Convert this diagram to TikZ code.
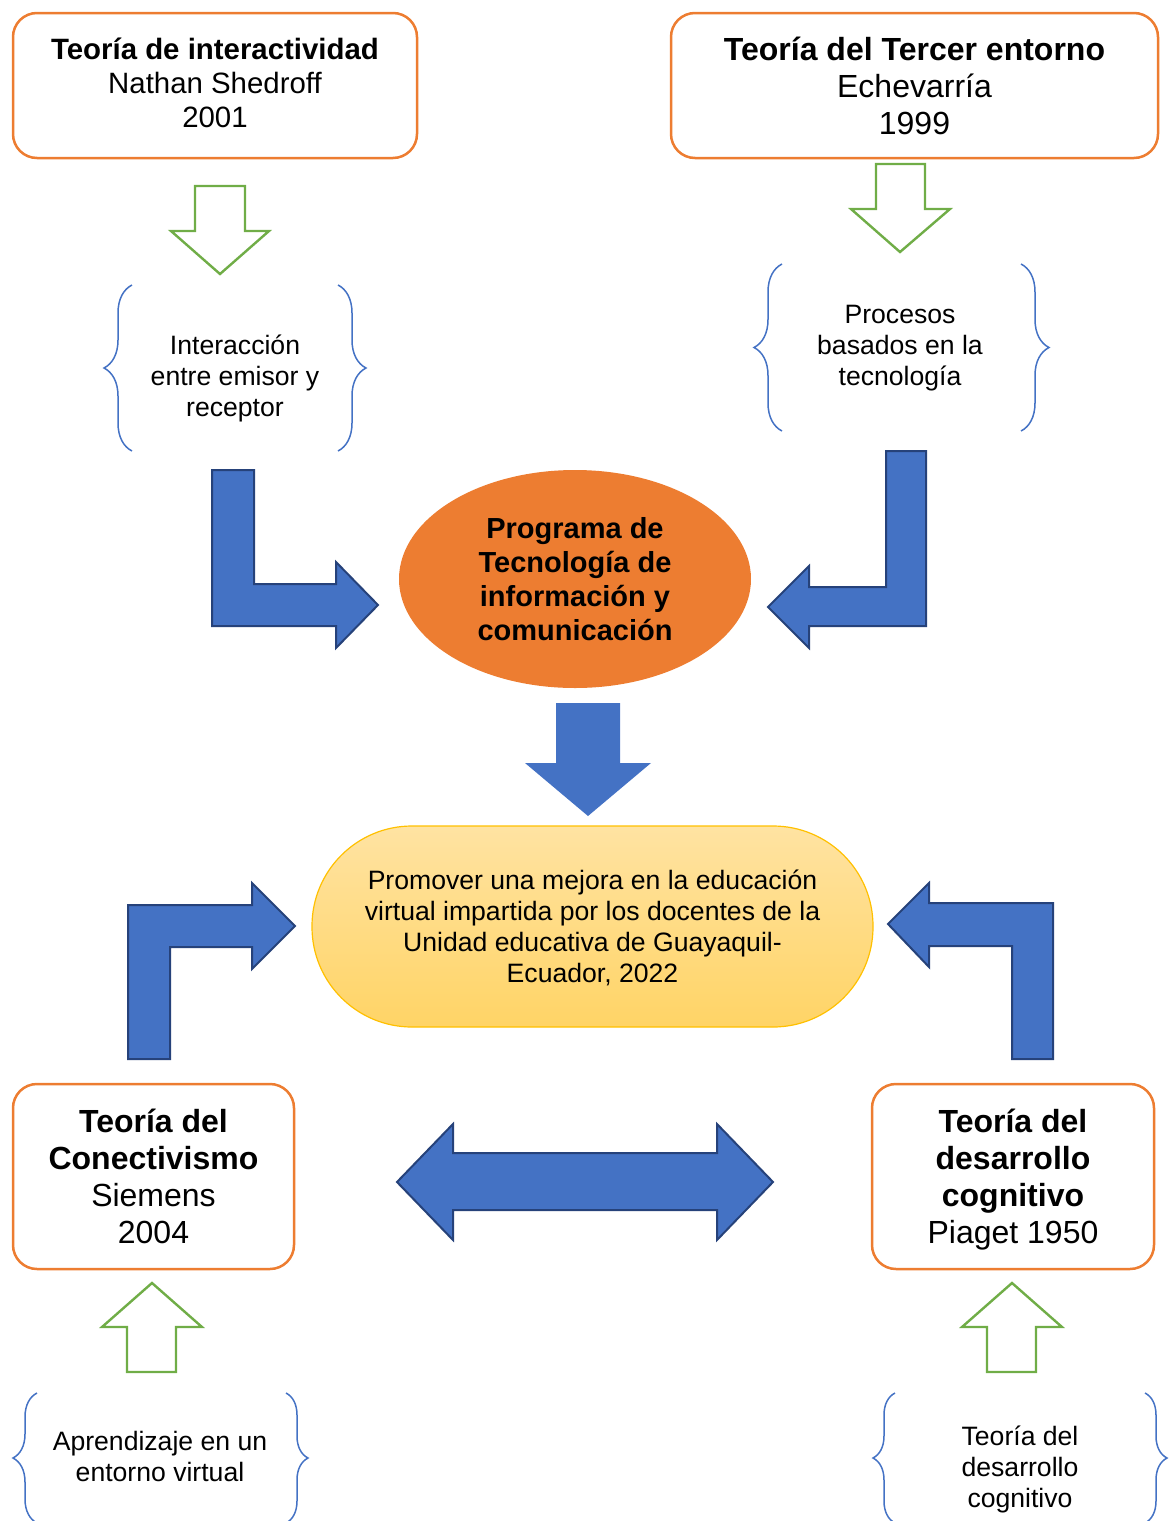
\documentclass[tikz,border=0pt]{standalone}
\usepackage{fontspec}
\setmainfont{Liberation Sans}
\usetikzlibrary{shapes.geometric}
\usetikzlibrary{decorations.pathreplacing}
\definecolor{naranja}{HTML}{ED7D31}
\definecolor{azul}{HTML}{4472C4}
\definecolor{azuloscuro}{HTML}{26427A}
\definecolor{verde}{HTML}{70AD47}
\definecolor{oro}{HTML}{FFC000}
\definecolor{oroclaro}{HTML}{FFE3A2}
\definecolor{oromedio}{HTML}{FFD466}

\begin{document}
\begin{tikzpicture}[x=0.5pt,y=-0.5pt,
	teoria/.style={draw=naranja, line width=1.25pt, rounded corners=12pt, fill=white, align=center, inner sep=0pt},
	llave/.style={draw=azul, line width=0.75pt, decorate, decoration={brace, amplitude=#1}},
	texto/.style={align=center, inner sep=0pt, font=\fontsize{13.3pt}{15.5pt}\selectfont},
	flechaverde/.style={draw=verde, line width=1.2pt, fill=white, line join=miter},
	flechaazul/.style={draw=azuloscuro, line width=1pt, fill=azul, line join=miter},
	]
	\useasboundingbox (0,0) rectangle (1169,1521);
	%Nodes
	\node[teoria, minimum width=202pt, minimum height=72.5pt, font=\fontsize{14.7pt}{17pt}\selectfont]
		(interact) at (215,85.5) {\textbf{Teoría de interactividad}\\Nathan Shedroff\\2001\vphantom{g}};
	\node[teoria, minimum width=243.5pt, minimum height=72.5pt, font=\fontsize{16pt}{18.5pt}\selectfont]
		(tercer) at (914.5,85.5) {\textbf{Teoría del Tercer entorno}\\Echevarría\\1999};
	\node[teoria, minimum width=140.5pt, minimum height=92.5pt, font=\fontsize{16pt}{18.5pt}\selectfont]
		(conect) at (153.5,1176.5) {\textbf{Teoría del}\\\textbf{Conectivismo}\\Siemens\\2004};
	\node[teoria, minimum width=141pt, minimum height=92.5pt, font=\fontsize{16pt}{18.5pt}\selectfont]
		(cognit) at (1013,1176.5) {\textbf{Teoría del}\\\textbf{desarrollo}\\\textbf{cognitivo}\\\raisebox{0pt}[\height][0pt]{Piaget 1950}};
	\node[ellipse, fill=naranja, minimum width=176pt, minimum height=109pt, inner sep=0pt, align=center,
		font=\fontsize{14.5pt}{17pt}\selectfont\bfseries]
		(programa) at (575,579) {Programa de\\Tecnología de\\información y\\comunicación};
	\node[draw=oro, line width=0.6pt, top color=oroclaro, bottom color=oromedio, rounded corners=50pt,
		minimum width=280.5pt, minimum height=100.5pt, texto]
		(meta) at (592.5,926.5) {\vphantom{Ág}Promover una mejora en la educación\\virtual impartida por los docentes de la\\Unidad educativa de Guayaquil-\\Ecuador, 2022};
	\node[texto] (interaccion) at (235,378)    {Interacción\\entre emisor y\\receptor};
	\node[texto] (procesos)    at (900,348.5)  {Procesos\\basados en la\\tecnología};
	\node[texto] (aprendizaje) at (160,1456)   {Aprendizaje en un\\entorno virtual};
	\node[texto] (desarrollo)  at (1020,1469)  {Teoría del\\desarrollo\\cognitivo};

	%Braces
	\draw[llave=14pt] (132,451) -- (132,285);
	\draw[llave=14pt] (338,285) -- (338,451);
	\draw[llave=14pt] (782,431) -- (782,264);
	\draw[llave=14pt] (1021,264) -- (1021,431);
	\draw[llave=12pt] (37,1523) -- (37,1393);
	\draw[llave=11pt] (286,1393) -- (286,1523);
	\draw[llave=11pt] (895,1523) -- (895,1393);
	\draw[llave=11pt] (1145,1393) -- (1145,1523);

	%Green arrows
	\draw[flechaverde] (195,186) -- (245,186) -- (245,231) -- (269,231) -- (220,274) -- (171,231) -- (195,231) -- cycle;
	\draw[flechaverde] (876,164) -- (925,164) -- (925,209) -- (950,209) -- (900,252) -- (851,209) -- (876,209) -- cycle;
	\draw[flechaverde] (152,1283) -- (202,1327) -- (176,1327) -- (176,1372) -- (127,1372) -- (127,1327) -- (102,1327) -- cycle;
	\draw[flechaverde] (1012,1283) -- (1062,1327) -- (1036,1327) -- (1036,1372) -- (987,1372) -- (987,1327) -- (962,1327) -- cycle;

	%Blue arrows
	\draw[flechaazul] (212,470) -- (254,470) -- (254,584) -- (336,584) -- (336,562) -- (378,605) -- (336,648) -- (336,626) -- (212,626) -- cycle;
	\draw[flechaazul] (886,451) -- (926,451) -- (926,626) -- (809,626) -- (809,648) -- (768,607) -- (809,566) -- (809,587) -- (886,587) -- cycle;
	\fill[azul] (556,703) -- (620,703) -- (620,763) -- (651,763) -- (588,816) -- (525,763) -- (556,763) -- cycle;
	\draw[flechaazul] (128,1059) -- (170,1059) -- (170,947) -- (252,947) -- (252,969) -- (295,926) -- (252,883) -- (252,905) -- (128,905) -- cycle;
	\draw[flechaazul] (1053,1059) -- (1012,1059) -- (1012,946) -- (929,946) -- (929,967) -- (888,924) -- (929,883) -- (929,903) -- (1053,903) -- cycle;
	\draw[flechaazul] (397,1182) -- (453,1124) -- (453,1153) -- (717,1153) -- (717,1124) -- (773,1182) -- (717,1240) -- (717,1210) -- (453,1210) -- (453,1240) -- cycle;
\end{tikzpicture}
\end{document}
